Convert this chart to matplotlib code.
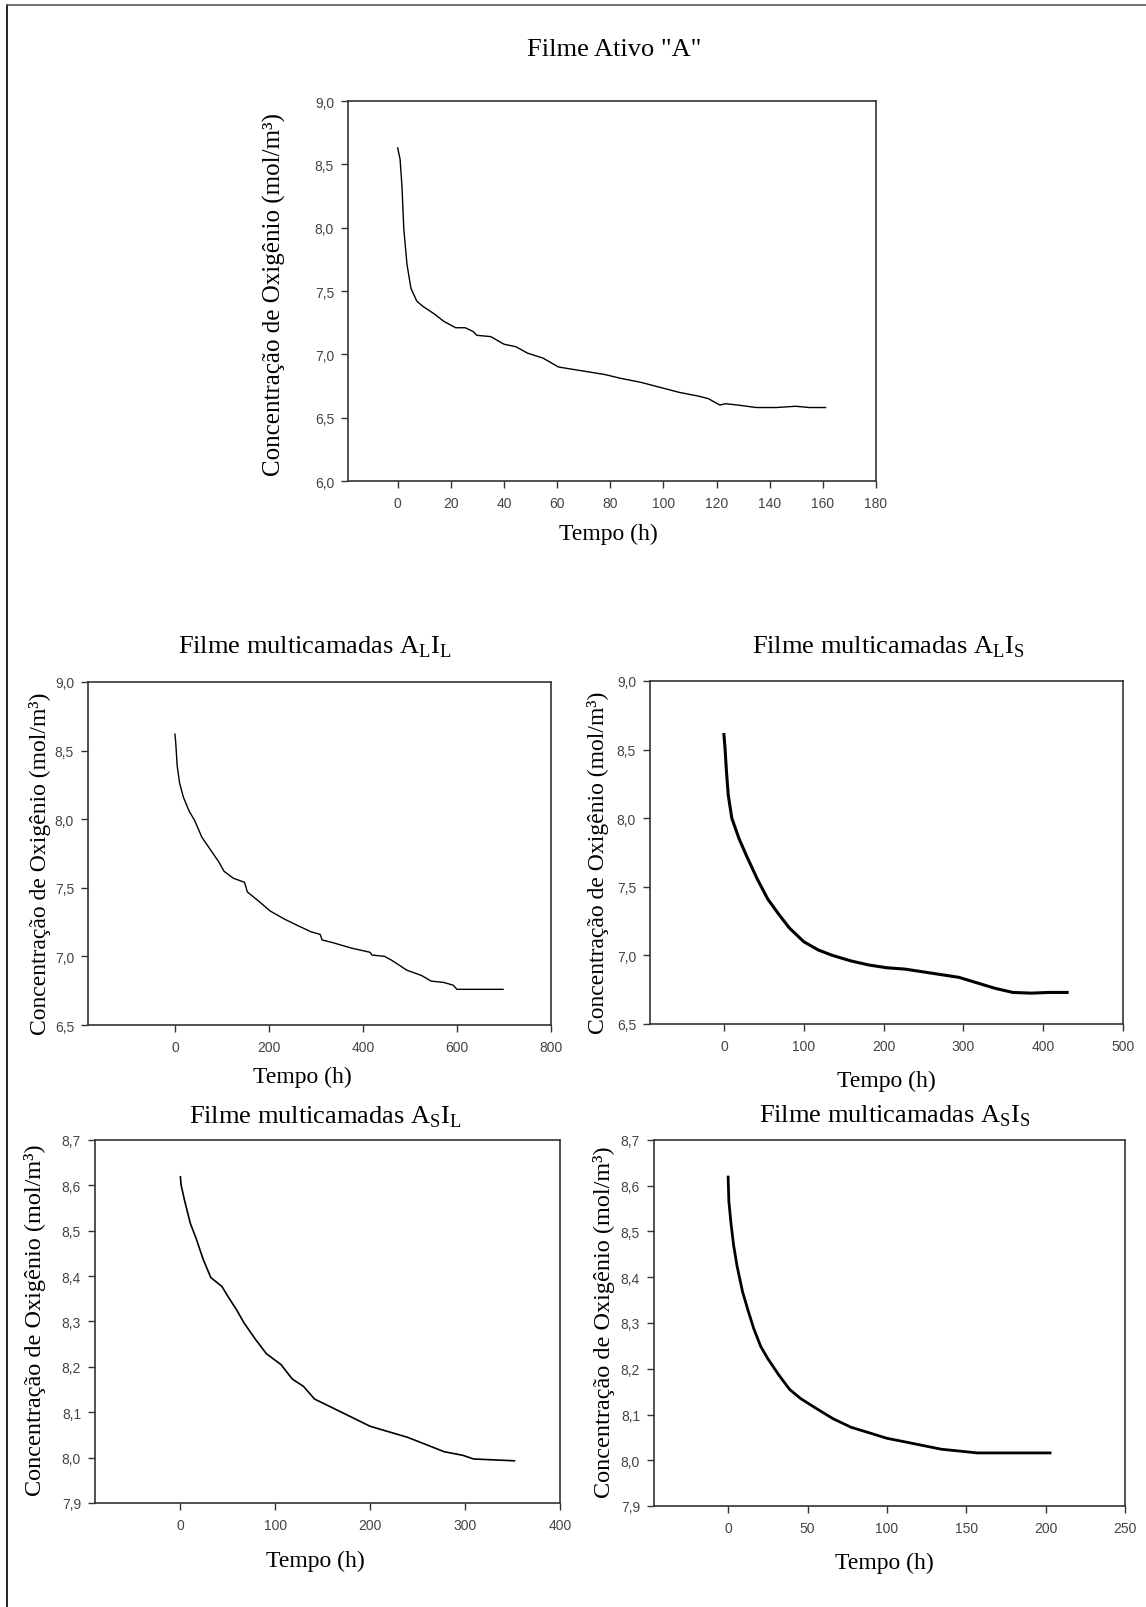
import matplotlib
matplotlib.use("Agg")
import matplotlib.pyplot as plt
from matplotlib import font_manager
from matplotlib.lines import Line2D

# Dados (tempo em h, concentração em mol/m³)
t_ativo = [0, 0.9, 1.6, 2.3, 3.5, 5, 7.2, 9.4, 13.7, 17.4, 21.8, 25.4, 28.4, 29.8, 35,
           40, 44.5, 48.8, 54.7, 60.5, 69.3, 78.1, 84, 91.3, 98.6, 105.9, 113.2, 116.9,
           121.2, 123.4, 127.8, 135, 142.4, 149.8, 155, 161]
c_ativo = [8.63, 8.54, 8.33, 7.99, 7.71, 7.52, 7.42, 7.38, 7.32, 7.26, 7.21, 7.21, 7.18, 7.15, 7.14,
           7.08, 7.06, 7.01, 6.97, 6.90, 6.87, 6.84, 6.81, 6.78, 6.74, 6.70, 6.67, 6.65,
           6.60, 6.61, 6.60, 6.58, 6.58, 6.59, 6.58, 6.58]

t_LL = [0, 1.6, 4.7, 10, 18, 30, 42, 57, 73, 93, 104.5, 124, 148, 154, 179, 203, 234, 258,
        289, 309, 313, 336, 376, 415, 419, 446, 462, 493, 525, 545, 572, 592, 600, 698]
c_LL = [8.62, 8.56, 8.39, 8.26, 8.16, 8.06, 7.99, 7.87, 7.79, 7.69, 7.62, 7.57, 7.54, 7.47,
        7.40, 7.33, 7.27, 7.23, 7.18, 7.16, 7.12, 7.10, 7.06, 7.03, 7.01, 7.00, 6.97, 6.90,
        6.86, 6.82, 6.81, 6.79, 6.76, 6.76]

t_LS = [0, 1.4, 3.2, 5.4, 9.9, 19, 28, 41.5, 55, 68.7, 82, 100, 118, 136, 159, 181.6, 204,
        227, 249.5, 272, 294.5, 317, 339.7, 362, 385, 407.6, 430]
c_LS = [8.61, 8.51, 8.34, 8.17, 8.00, 7.85, 7.73, 7.56, 7.41, 7.30, 7.20, 7.10, 7.04, 7.00,
        6.96, 6.93, 6.91, 6.90, 6.88, 6.86, 6.84, 6.80, 6.76, 6.73, 6.725, 6.73, 6.73]

t_SL = [0, 0.8, 4.7, 10.5, 16.4, 24, 32, 43.8, 49.6, 59.4, 67, 79, 90.6, 106, 118, 129.7,
        141.4, 161, 180.5, 200, 219.5, 239, 258.6, 278, 297.7, 309, 352]
c_SL = [8.619, 8.60, 8.564, 8.516, 8.484, 8.437, 8.397, 8.377, 8.357, 8.325, 8.297, 8.261,
        8.229, 8.205, 8.173, 8.157, 8.129, 8.109, 8.089, 8.069, 8.057, 8.045, 8.029, 8.013,
        8.005, 7.997, 7.993]

t_SS = [0, 0.46, 1.8, 3.4, 5.7, 9.1, 12.5, 16, 20.5, 25, 32, 38.7, 45.6, 54.7, 66, 77.5,
        88.9, 100, 111.7, 123, 134.5, 145.9, 157, 180, 202.8]
c_SS = [8.619, 8.566, 8.518, 8.471, 8.423, 8.368, 8.328, 8.289, 8.249, 8.222, 8.186, 8.155,
        8.135, 8.115, 8.091, 8.072, 8.06, 8.048, 8.04, 8.032, 8.024, 8.02, 8.016, 8.016, 8.016]

titulos = ['Filme Ativo "A"',
           r'Filme multicamadas A$_\mathregular{L}$I$_\mathregular{L}$',
           r'Filme multicamadas A$_\mathregular{L}$I$_\mathregular{S}$',
           r'Filme multicamadas A$_\mathregular{S}$I$_\mathregular{L}$',
           r'Filme multicamadas A$_\mathregular{S}$I$_\mathregular{S}$']
ylabel = "Concentração de Oxigênio (mol/m³)"
xlabel = "Tempo (h)"

W, H = 1146, 1608
serif = "Liberation Serif"
nomes = {f.name for f in font_manager.fontManager.ttflist}
tick_font = "Liberation Sans Narrow" if "Liberation Sans Narrow" in nomes else "Liberation Sans"

plt.rcParams["mathtext.fontset"] = "custom"
plt.rcParams["mathtext.rm"] = serif


def box(l, t, r, b):
    return [l / W, 1 - b / H, (r - l) / W, (b - t) / H]


def fmt(v, dec):
    return (f"{v:.{dec}f}").replace(".", ",")


fig = plt.figure(figsize=(W / 100, H / 100), dpi=100)

# moldura da página
fig.add_artist(Line2D([7 / W, 7 / W], [0, 1 - 6 / H], transform=fig.transFigure, color="black", lw=1.2))
fig.add_artist(Line2D([7 / W, 1], [1 - 6 / H, 1 - 6 / H], transform=fig.transFigure, color="#555555", lw=1.2))

paineis = [
    # dados, caixa (px), xlim, xticks, ylim, yticks, dec, lw, título xy, ylabel xy, xlabel xy, tamanho
    (t_ativo, c_ativo, (348, 102, 876, 482), (-18.7, 180), range(0, 181, 20), (6.0, 9.0),
     [6.0, 6.5, 7.0, 7.5, 8.0, 8.5, 9.0], 1, 1.0, (614, 50), (274, 295), (608, 534), 18),
    (t_LL, c_LL, (88, 683, 551, 1026), (-185, 800), range(0, 801, 200), (6.5, 9.0),
     [6.5, 7.0, 7.5, 8.0, 8.5, 9.0], 1, 1.0, (315, 647), (40, 864), (302, 1077), 17),
    (t_LS, c_LS, (650, 682, 1123, 1025), (-92.6, 500), range(0, 501, 100), (6.5, 9.0),
     [6.5, 7.0, 7.5, 8.0, 8.5, 9.0], 1, 2.2, (888, 647), (598, 863), (886, 1081), 17),
    (t_SL, c_SL, (95, 1141, 560, 1504), (-90, 400), range(0, 401, 100), (7.9, 8.7),
     [7.9, 8.0, 8.1, 8.2, 8.3, 8.4, 8.5, 8.6, 8.7], 1, 1.2, (325, 1117), (35, 1320), (315, 1561), 17.5),
    (t_SS, c_SS, (654, 1141, 1125, 1507), (-46.7, 250), range(0, 251, 50), (7.9, 8.7),
     [7.9, 8.0, 8.1, 8.2, 8.3, 8.4, 8.5, 8.6, 8.7], 1, 2.0, (895, 1116), (604, 1322), (884, 1563), 17.5),
]

for i, (tx, cy, caixa, xl, xt, yl, yt, dec, lw, tpos, ypos, xpos, fs) in enumerate(paineis):
    ax = fig.add_axes(box(*caixa))
    ax.plot(tx, cy, color="black", lw=lw)
    ax.set_xlim(*xl)
    ax.set_ylim(*yl)
    ax.set_xticks(list(xt))
    ax.set_xticklabels([str(v) for v in xt])
    ax.set_yticks(yt)
    ax.set_yticklabels([fmt(v, dec) for v in yt])
    for s in ax.spines.values():
        s.set_color("#333333")
        s.set_linewidth(1.2)
    ax.tick_params(direction="out", length=5, width=1, color="#333333",
                   labelcolor="#444444", labelsize=10)
    ax.tick_params(axis="x", pad=6)
    ax.tick_params(axis="y", pad=5)
    for lab in ax.get_xticklabels() + ax.get_yticklabels():
        lab.set_family(tick_font)

    fig.text(tpos[0] / W, 1 - tpos[1] / H, titulos[i], family=serif, fontsize=19,
             ha="center", va="center")
    fig.text(ypos[0] / W, 1 - ypos[1] / H, ylabel, family=serif, fontsize=fs,
             rotation=90, ha="center", va="center")
    fig.text(xpos[0] / W, 1 - xpos[1] / H, xlabel, family=serif, fontsize=17,
             ha="center", va="center")

fig.savefig("out.png", dpi=100, facecolor="white")
